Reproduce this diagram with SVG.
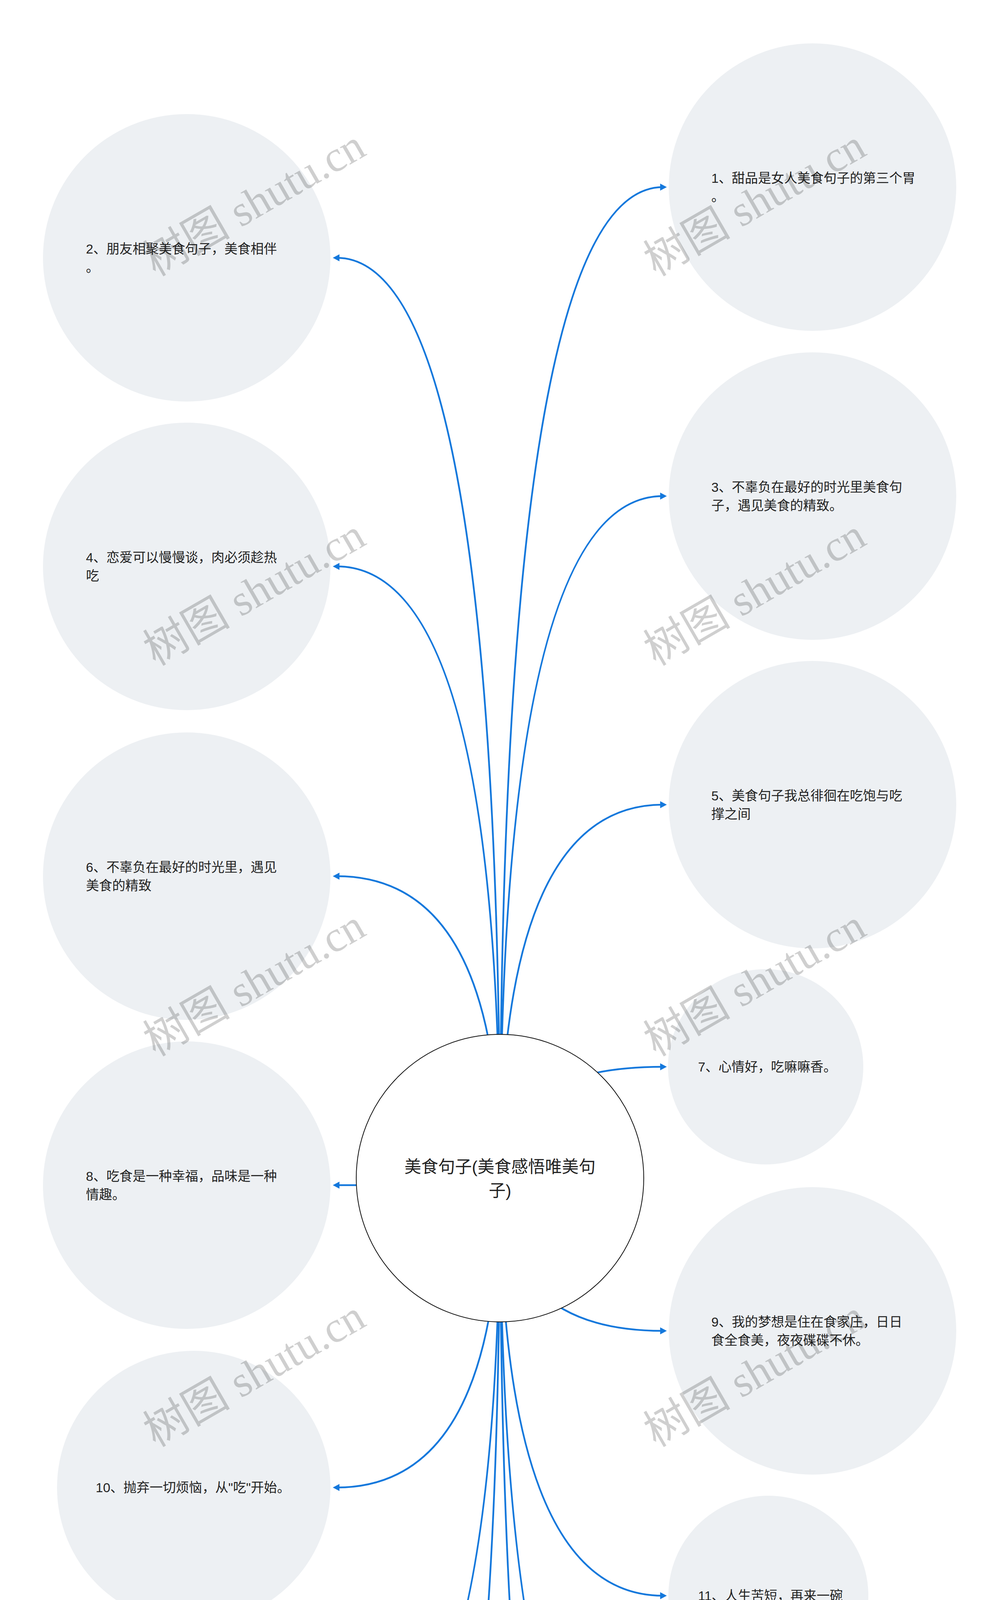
<svg xmlns="http://www.w3.org/2000/svg" width="2560" height="6034" viewBox="0 0 2560 6034">
<style>
.bg{fill:#ffffff}
.edge{fill:none;stroke:#1478dc;stroke-width:4.5;marker-end:url(#arr)}
.node{fill:#edf0f3}
.root{fill:#ffffff;stroke:#111111;stroke-width:2}
.t{font-family:"Liberation Sans","Noto Sans CJK SC",sans-serif;font-size:33.6px;fill:#222222}
.rt{font-family:"Liberation Sans","Noto Sans CJK SC",sans-serif;font-size:43.2px;fill:#222222;text-anchor:middle}
.wm{font-family:"Liberation Serif","Noto Sans CJK SC",serif;font-size:112px;fill:#000000;fill-opacity:0.19;text-anchor:middle}
</style>
<defs>
<marker id="arr" markerUnits="userSpaceOnUse" markerWidth="20" markerHeight="20" viewBox="0 -10 20 20" refX="7" refY="0" orient="auto">
<path d="M0,-9 L17,0 L0,9 z" fill="#1478dc"/>
</marker>
</defs>
<rect class="bg" x="0" y="0" width="2560" height="6034"/>
<g id="connectors">
<path class="edge" d="M1280 3016 Q1280 479 1697 479"/>
<path class="edge" d="M1280 3016 Q1280 1270 1697 1270"/>
<path class="edge" d="M1280 3016 Q1280 2060 1697 2060"/>
<path class="edge" d="M1280 3016 Q1280 2731 1697 2731"/>
<path class="edge" d="M1280 3016 Q1280 3407 1697 3407"/>
<path class="edge" d="M1280 3016 Q1280 4085 1697 4085"/>
<path class="edge" d="M1280 3016 Q1280 4763 1697 4763"/>
<path class="edge" d="M1280 3016 Q1280 5554 1697 5554"/>
<path class="edge" d="M1280 3016 Q1280 660 862 660"/>
<path class="edge" d="M1280 3016 Q1280 1450 862 1450"/>
<path class="edge" d="M1280 3016 Q1280 2243 862 2243"/>
<path class="edge" d="M1280 3016 Q1280 3034 862 3034"/>
<path class="edge" d="M1280 3016 Q1280 3808 862 3808"/>
<path class="edge" d="M1280 3016 Q1280 4582 862 4582"/>
<path class="edge" d="M1280 3016 Q1280 5374 862 5374"/>
</g>
<g id="root">
<circle class="root" cx="1280" cy="3016" r="368"/>
<text class="rt" x="1280" y="3001.5">美食句子(美食感悟唯美句</text>
<text class="rt" x="1280" y="3062.5">子)</text>
</g>
<g id="n1">
<circle class="node" cx="2080" cy="479" r="368"/>
<text class="t" x="1821" y="467.5">1、甜品是女人美食句子的第三个胃</text>
<text class="t" x="1821" y="514.5">。</text>
</g>
<g id="n2">
<circle class="node" cx="478" cy="660" r="368"/>
<text class="t" x="220" y="648.5">2、朋友相聚美食句子，美食相伴</text>
<text class="t" x="220" y="695.5">。</text>
</g>
<g id="n3">
<circle class="node" cx="2080" cy="1270" r="368"/>
<text class="t" x="1821" y="1258.5">3、不辜负在最好的时光里美食句</text>
<text class="t" x="1821" y="1305.5">子，遇见美食的精致。</text>
</g>
<g id="n4">
<circle class="node" cx="478" cy="1450" r="368"/>
<text class="t" x="220" y="1438.5">4、恋爱可以慢慢谈，肉必须趁热</text>
<text class="t" x="220" y="1485.5">吃</text>
</g>
<g id="n5">
<circle class="node" cx="2080" cy="2060" r="368"/>
<text class="t" x="1821" y="2048.5">5、美食句子我总徘徊在吃饱与吃</text>
<text class="t" x="1821" y="2095.5">撑之间</text>
</g>
<g id="n6">
<circle class="node" cx="478" cy="2243" r="368"/>
<text class="t" x="220" y="2231.5">6、不辜负在最好的时光里，遇见</text>
<text class="t" x="220" y="2278.5">美食的精致</text>
</g>
<g id="n7">
<circle class="node" cx="1960" cy="2731" r="250"/>
<text class="t" x="1787" y="2743">7、心情好，吃嘛嘛香。</text>
</g>
<g id="n8">
<circle class="node" cx="478" cy="3034" r="368"/>
<text class="t" x="220" y="3022.5">8、吃食是一种幸福，品味是一种</text>
<text class="t" x="220" y="3069.5">情趣。</text>
</g>
<g id="n9">
<circle class="node" cx="2080" cy="3407" r="368"/>
<text class="t" x="1821" y="3395.5">9、我的梦想是住在食家庄，日日</text>
<text class="t" x="1821" y="3442.5">食全食美，夜夜碟碟不休。</text>
</g>
<g id="n10">
<circle class="node" cx="496" cy="3808" r="350"/>
<text class="t" x="245" y="3820">10、抛弃一切烦恼，从"吃"开始。</text>
</g>
<g id="n11">
<circle class="node" cx="1967" cy="4085" r="256"/>
<text class="t" x="1787" y="4097">11、人生苦短，再来一碗</text>
</g>
<g id="n12">
<circle class="node" cx="478" cy="4582" r="368"/>
<text class="t" x="220" y="4570.5">12、每天叫醒自己的不是闹钟，不</text>
<text class="t" x="220" y="4617.5">是梦想，不是尿急，而是肚子。</text>
</g>
<g id="n13">
<circle class="node" cx="2080" cy="4763" r="368"/>
<text class="t" x="1821" y="4751.5">13、原终将把生活的锋芒熬成最温</text>
<text class="t" x="1821" y="4798.5">柔的浓汤</text>
</g>
<g id="n14">
<circle class="node" cx="478" cy="5374" r="368"/>
<text class="t" x="220" y="5362.5">14、向宇宙撒一把盐 今天晚上吃盐</text>
<text class="t" x="220" y="5409.5">焗小星球</text>
</g>
<g id="n15">
<circle class="node" cx="2080" cy="5554" r="368"/>
<text class="t" x="1821" y="5542.5">15、吃货的最高境界美食句子：眼</text>
<text class="t" x="1821" y="5589.5">见为食!</text>
</g>
<g id="watermarks">
<text class="wm" x="670" y="552" transform="rotate(-30 670 552)">树图 shutu.cn</text>
<text class="wm" x="1951" y="552" transform="rotate(-30 1951 552)">树图 shutu.cn</text>
<text class="wm" x="670" y="1549" transform="rotate(-30 670 1549)">树图 shutu.cn</text>
<text class="wm" x="1951" y="1549" transform="rotate(-30 1951 1549)">树图 shutu.cn</text>
<text class="wm" x="670" y="2549" transform="rotate(-30 670 2549)">树图 shutu.cn</text>
<text class="wm" x="1951" y="2549" transform="rotate(-30 1951 2549)">树图 shutu.cn</text>
<text class="wm" x="670" y="3549" transform="rotate(-30 670 3549)">树图 shutu.cn</text>
<text class="wm" x="1951" y="3549" transform="rotate(-30 1951 3549)">树图 shutu.cn</text>
<text class="wm" x="670" y="4547" transform="rotate(-30 670 4547)">树图 shutu.cn</text>
<text class="wm" x="1951" y="4547" transform="rotate(-30 1951 4547)">树图 shutu.cn</text>
<text class="wm" x="670" y="5545" transform="rotate(-30 670 5545)">树图 shutu.cn</text>
<text class="wm" x="1951" y="5545" transform="rotate(-30 1951 5545)">树图 shutu.cn</text>
</g>
</svg>
